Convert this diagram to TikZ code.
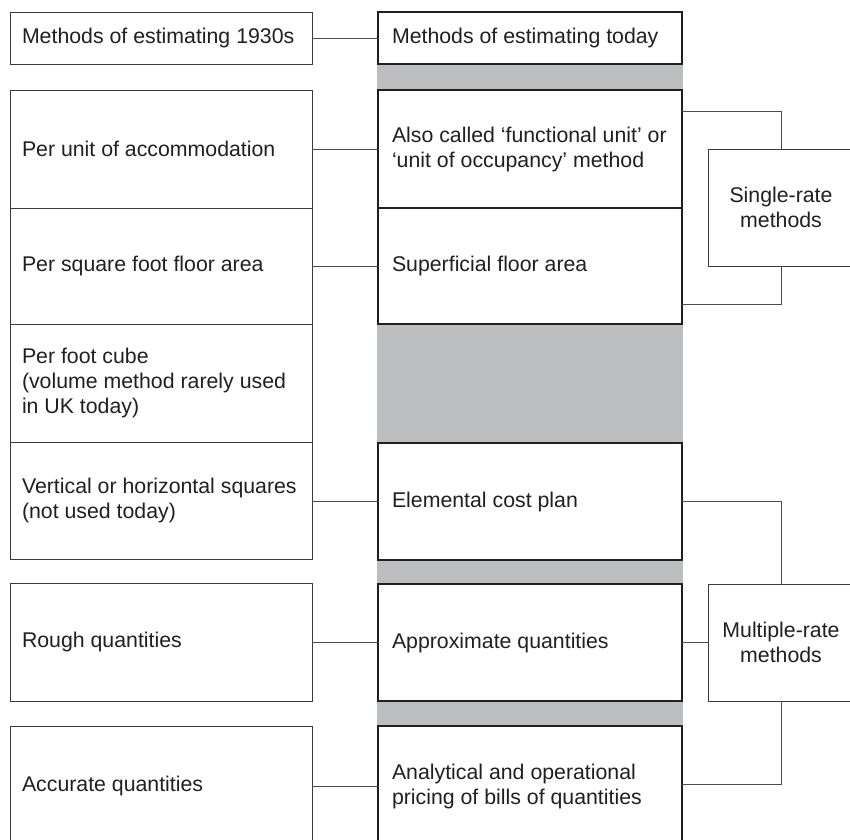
\documentclass[tikz,border=0pt]{standalone}
\usepackage{fontspec}
\setmainfont{Liberation Sans}
\definecolor{ink}{HTML}{231F20}
\definecolor{thin}{HTML}{3A3A3A}
\definecolor{conn}{HTML}{4D4D4D}
\definecolor{strip}{HTML}{BCBEC0}
\begin{document}
\begin{tikzpicture}[x=1pt,y=-1pt,
  every node/.style={font=\fontsize{21.3}{25}\selectfont, text=ink, outer sep=0pt},
  oldbox/.style={draw=thin, line width=1pt, fill=white, minimum width=302pt, inner sep=0pt, anchor=north west},
  newbox/.style={draw=ink, line width=2.3pt, fill=white, minimum width=304pt, inner sep=0pt, anchor=north west},
  ratebox/.style={draw=thin, line width=1pt, fill=white, minimum width=146pt, minimum height=117pt, inner sep=0pt, align=center},
  lbl/.style={anchor=west, align=left, inner sep=0pt},
  link/.style={draw=conn, line width=1pt}
]
\useasboundingbox (0,0) rectangle (850,839);
\clip (0,0) rectangle (850,839);
% grey strip behind the middle column
\fill[strip] (377,64) rectangle (683,845);

% left column (1930s)
\node[oldbox, minimum height=52pt] (L0) at (10,12) {};
\node[oldbox, minimum height=118pt] (L1) at (10,90) {};
\node[oldbox, minimum height=116pt] (L2) at (10,208) {};
\node[oldbox, minimum height=118pt] (L3) at (10,324) {};
\node[oldbox, minimum height=117pt] (L4) at (10,442) {};
\node[oldbox, minimum height=118pt] (L5) at (10,583) {};
\node[oldbox, minimum height=120pt] (L6) at (10,726) {};

\node[lbl] (L0t) at ([xshift=12pt]L0.west) {Methods of estimating 1930s};
\node[lbl] (L1t) at ([xshift=12pt]L1.west) {Per unit of accommodation};
\node[lbl] (L2t) at ([xshift=12pt]L2.west) {Per square foot floor area};
\node[lbl] (L3t) at ([xshift=12pt]L3.west) {Per foot cube\\(volume method rarely used\\in UK today)};
\node[lbl] (L4t) at ([xshift=12pt]L4.west) {Vertical or horizontal squares\\(not used today)};
\node[lbl] (L5t) at ([xshift=12pt]L5.west) {Rough quantities};
\node[lbl] (L6t) at ([xshift=12pt]L6.west) {Accurate quantities};

% middle column (today)
\node[newbox, minimum height=52pt] (M0) at (378,12) {};
\node[newbox, minimum height=118pt] (M1) at (378,90) {};
\node[newbox, minimum height=116pt] (M2) at (378,208) {};
\node[newbox, minimum height=117pt] (M3) at (378,443) {};
\node[newbox, minimum height=117pt] (M4) at (378,584) {};
\node[newbox, minimum height=120pt] (M5) at (378,726) {};

\node[lbl] (M0t) at ([xshift=14pt]M0.west) {Methods of estimating today};
\node[lbl] (M1t) at ([xshift=14pt]M1.west) {Also called ‘functional unit’ or\\‘unit of occupancy’ method};
\node[lbl] (M2t) at ([xshift=14pt]M2.west) {Superficial floor area};
\node[lbl] (M3t) at ([xshift=14pt]M3.west) {Elemental cost plan};
\node[lbl] (M4t) at ([xshift=14pt]M4.west) {Approximate quantities};
\node[lbl] (M5t) at ([xshift=14pt]M5.west) {Analytical and operational\\pricing of bills of quantities};

% right column
\node[ratebox] (S) at (781,207.5) {Single-rate\\methods};
\node[ratebox] (MR) at (781,642.5) {Multiple-rate\\methods};

% connectors left to middle (kept horizontal)
\draw[link] (L0.east) -- (L0.east -| M0.west);
\draw[link] (L1.east) -- (L1.east -| M1.west);
\draw[link] (M2.west -| L2.east) -- (M2.west);
\draw[link] (M3.west -| L4.east) -- (M3.west);
\draw[link] (M4.west -| L5.east) -- (M4.west);
\draw[link] (M5.west -| L6.east) -- (M5.west);

% connectors middle to right
\draw[link] ([yshift=38pt]M1.east) -| (S.north);
\draw[link] ([yshift=-38pt]M2.east) -| (S.south);
\draw[link] (M3.east) -| (MR.north);
\draw[link] (M4.east) -- (M4.east -| MR.west);
\draw[link] ([yshift=2pt]M5.east) -| (MR.south);
\end{tikzpicture}
\end{document}
